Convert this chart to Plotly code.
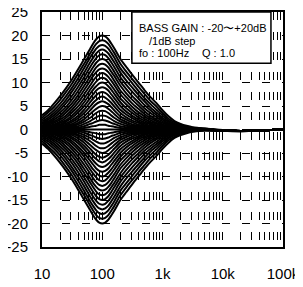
import plotly.graph_objects as go

# frequency points (Hz)
freqs = [10, 12.6, 15.8, 20, 25.1, 31.6, 39.8, 50.1, 63.1, 70.8, 79.4, 89.1, 100,
         112, 126, 141, 158, 200, 251, 316, 398, 501, 631, 794, 1000, 1260, 1580,
         2000, 2510, 3160, 5010, 10000, 20000, 40000, 100000]

# boost curves, gain +1 ... +20 dB (dB values read/estimated from the chart)
boost_gains = list(range(1, 21))
boost_db = [
 [0.0,0.0,0.0,0.0,0.1,0.1,0.2,0.3,0.6,0.7,0.8,1.0,1.0,1.0,0.8,0.7,0.6,0.3,0.2,0.2,0.1,0.1,0.0,0.0,0.0,0.0,0.0,0.0,0.0,0.0,0.0,-0.2,-0.3,-0.2,0.0],
 [0.0,0.0,0.1,0.1,0.2,0.3,0.4,0.7,1.2,1.4,1.7,1.9,2.0,1.9,1.7,1.4,1.2,0.7,0.5,0.3,0.2,0.1,0.1,0.1,0.0,0.0,0.0,0.0,0.0,0.0,0.0,-0.2,-0.3,-0.2,0.0],
 [0.0,0.1,0.1,0.2,0.3,0.5,0.7,1.2,1.8,2.2,2.6,2.9,3.0,2.9,2.6,2.2,1.8,1.2,0.8,0.6,0.4,0.3,0.2,0.1,0.1,0.0,0.0,0.0,0.0,0.0,0.0,-0.2,-0.3,-0.2,0.0],
 [0.1,0.1,0.2,0.3,0.4,0.7,1.1,1.7,2.5,3.0,3.5,3.9,4.0,3.9,3.5,3.0,2.5,1.7,1.2,0.8,0.6,0.4,0.3,0.2,0.1,0.1,0.0,0.0,0.0,0.0,0.0,-0.2,-0.3,-0.2,0.0],
 [0.1,0.1,0.2,0.4,0.6,0.9,1.4,2.2,3.3,3.9,4.4,4.8,5.0,4.9,4.4,3.9,3.3,2.2,1.6,1.1,0.8,0.5,0.4,0.2,0.1,0.1,0.0,0.0,0.0,0.0,0.0,-0.2,-0.3,-0.2,0.0],
 [0.1,0.2,0.3,0.5,0.8,1.2,1.9,2.8,4.1,4.8,5.4,5.8,6.0,5.8,5.4,4.8,4.1,2.8,2.1,1.5,1.0,0.7,0.5,0.3,0.2,0.1,0.1,0.0,0.0,0.0,0.0,-0.2,-0.3,-0.2,0.0],
 [0.2,0.3,0.4,0.7,1.0,1.6,2.4,3.5,4.9,5.7,6.3,6.8,7.0,6.8,6.3,5.7,4.9,3.5,2.6,1.9,1.4,0.9,0.6,0.4,0.3,0.2,0.1,0.1,0.0,0.0,0.0,-0.2,-0.3,-0.2,0.0],
 [0.2,0.4,0.6,0.9,1.3,2.0,2.9,4.2,5.8,6.6,7.3,7.8,8.0,7.8,7.3,6.6,5.8,4.2,3.2,2.4,1.7,1.2,0.8,0.6,0.3,0.2,0.1,0.1,0.0,0.0,0.0,-0.2,-0.3,-0.2,0.0],
 [0.3,0.5,0.7,1.1,1.7,2.5,3.6,5.0,6.7,7.5,8.3,8.8,9.0,8.8,8.3,7.5,6.7,5.0,3.8,2.9,2.1,1.5,1.1,0.7,0.5,0.3,0.2,0.1,0.1,0.0,0.0,-0.2,-0.3,-0.2,0.0],
 [0.4,0.6,0.9,1.4,2.0,3.0,4.2,5.8,7.6,8.5,9.2,9.8,10.0,9.8,9.2,8.5,7.6,5.8,4.5,3.5,2.6,1.9,1.3,0.9,0.6,0.3,0.2,0.1,0.1,0.0,0.0,-0.2,-0.3,-0.2,0.0],
 [0.5,0.7,1.1,1.7,2.5,3.6,4.9,6.6,8.5,9.4,10.2,10.8,11.0,10.8,10.2,9.4,8.5,6.6,5.3,4.1,3.1,2.3,1.6,1.2,0.7,0.4,0.3,0.2,0.1,0.1,0.0,-0.2,-0.3,-0.2,0.0],
 [0.6,0.9,1.4,2.1,3.0,4.2,5.7,7.5,9.4,10.4,11.2,11.8,12.0,11.8,11.2,10.4,9.5,7.5,6.1,4.8,3.7,2.8,2.0,1.4,0.9,0.5,0.3,0.2,0.1,0.1,0.0,-0.2,-0.3,-0.2,0.0],
 [0.8,1.2,1.7,2.5,3.6,4.9,6.5,8.4,10.4,11.4,12.2,12.8,13.0,12.8,12.2,11.4,10.4,8.3,6.9,5.5,4.4,3.3,2.4,1.8,1.1,0.7,0.4,0.3,0.2,0.1,0.0,-0.2,-0.3,-0.2,0.0],
 [0.9,1.4,2.1,3.0,4.2,5.6,7.3,9.3,11.3,12.3,13.2,13.8,14.0,13.8,13.2,12.3,11.4,9.3,7.7,6.3,5.1,3.9,2.9,2.1,1.4,0.9,0.5,0.3,0.2,0.1,0.1,-0.2,-0.3,-0.2,0.0],
 [1.2,1.7,2.5,3.6,4.8,6.4,8.2,10.2,12.3,13.3,14.2,14.8,15.0,14.8,14.2,13.3,12.3,10.2,8.6,7.1,5.8,4.5,3.5,2.6,1.7,1.1,0.7,0.4,0.3,0.2,0.1,-0.2,-0.3,-0.2,0.0],
 [1.4,2.1,3.0,4.2,5.6,7.2,9.1,11.1,13.3,14.3,15.2,15.8,16.0,15.8,15.2,14.3,13.3,11.1,9.5,8.0,6.6,5.2,4.1,3.1,2.1,1.3,0.8,0.5,0.3,0.2,0.1,-0.2,-0.3,-0.2,0.0],
 [1.7,2.5,3.5,4.8,6.3,8.1,10.0,12.1,14.3,15.3,16.2,16.8,17.0,16.8,16.2,15.3,14.3,12.1,10.4,8.9,7.4,6.0,4.7,3.6,2.5,1.6,1.0,0.6,0.4,0.3,0.1,-0.2,-0.3,-0.2,0.0],
 [2.1,3.0,4.1,5.5,7.1,8.9,10.9,13.1,15.3,16.3,17.2,17.8,18.0,17.8,17.2,16.3,15.3,13.0,11.4,9.8,8.2,6.7,5.4,4.2,3.0,1.9,1.2,0.8,0.5,0.3,0.1,-0.2,-0.3,-0.2,0.0],
 [2.5,3.6,4.8,6.3,8.0,9.8,11.9,14.0,16.2,17.3,18.2,18.8,19.0,18.8,18.2,17.3,16.3,14.0,12.3,10.7,9.1,7.6,6.1,4.9,3.5,2.3,1.5,1.0,0.6,0.4,0.2,-0.2,-0.3,-0.2,0.0],
 [3.0,4.1,5.5,7.1,8.8,10.7,12.8,15.0,17.2,18.3,19.2,19.8,20.0,19.8,19.2,18.3,17.3,15.0,13.3,11.6,10.0,8.4,6.9,5.6,4.1,2.8,1.8,1.2,0.8,0.5,0.2,-0.1,-0.3,-0.2,0.0],
]

# flat curve, gain 0 dB
flat_db = [0.0,0.0,0.0,0.0,0.0,0.0,0.0,0.0,0.0,0.0,0.0,0.0,0.0,0.0,0.0,0.0,0.0,0.0,0.0,0.0,0.0,0.0,0.0,0.0,0.0,0.0,0.0,0.0,0.0,0.0,0.0,-0.2,-0.3,-0.2,0.0]

# cut curves, gain -1 ... -20 dB
cut_gains = list(range(-1, -21, -1))
cut_db = [
 [0.0,0.0,0.0,0.0,-0.1,-0.1,-0.2,-0.3,-0.6,-0.7,-0.8,-1.0,-1.0,-1.0,-0.8,-0.7,-0.6,-0.3,-0.2,-0.2,-0.1,-0.1,0.0,0.0,0.0,0.0,0.0,0.0,0.0,0.0,0.0,-0.2,-0.3,-0.2,0.0],
 [0.0,0.0,-0.1,-0.1,-0.2,-0.3,-0.4,-0.7,-1.2,-1.4,-1.7,-1.9,-2.0,-1.9,-1.7,-1.4,-1.2,-0.7,-0.5,-0.3,-0.2,-0.1,-0.1,-0.1,0.0,0.0,0.0,0.0,0.0,0.0,0.0,-0.2,-0.3,-0.2,0.0],
 [0.0,-0.1,-0.1,-0.2,-0.3,-0.5,-0.7,-1.2,-1.8,-2.2,-2.6,-2.9,-3.0,-2.9,-2.6,-2.2,-1.8,-1.2,-0.8,-0.6,-0.4,-0.3,-0.2,-0.1,-0.1,0.0,0.0,0.0,0.0,0.0,0.0,-0.2,-0.3,-0.2,0.0],
 [-0.1,-0.1,-0.2,-0.3,-0.4,-0.7,-1.1,-1.7,-2.5,-3.0,-3.5,-3.9,-4.0,-3.9,-3.5,-3.0,-2.5,-1.7,-1.2,-0.8,-0.6,-0.4,-0.3,-0.2,-0.1,-0.1,0.0,0.0,0.0,0.0,0.0,-0.2,-0.3,-0.2,0.0],
 [-0.1,-0.1,-0.2,-0.4,-0.6,-0.9,-1.4,-2.2,-3.3,-3.9,-4.4,-4.8,-5.0,-4.9,-4.4,-3.9,-3.3,-2.2,-1.6,-1.1,-0.8,-0.5,-0.4,-0.2,-0.1,-0.1,0.0,0.0,0.0,0.0,0.0,-0.2,-0.3,-0.2,0.0],
 [-0.1,-0.2,-0.3,-0.5,-0.8,-1.2,-1.9,-2.8,-4.1,-4.8,-5.4,-5.8,-6.0,-5.8,-5.4,-4.8,-4.1,-2.8,-2.1,-1.5,-1.0,-0.7,-0.5,-0.3,-0.2,-0.1,-0.1,0.0,0.0,0.0,0.0,-0.2,-0.3,-0.2,0.0],
 [-0.2,-0.3,-0.4,-0.7,-1.0,-1.6,-2.4,-3.5,-4.9,-5.7,-6.3,-6.8,-7.0,-6.8,-6.3,-5.7,-4.9,-3.5,-2.6,-1.9,-1.4,-0.9,-0.6,-0.4,-0.3,-0.2,-0.1,-0.1,0.0,0.0,0.0,-0.2,-0.3,-0.2,0.0],
 [-0.2,-0.4,-0.6,-0.9,-1.3,-2.0,-2.9,-4.2,-5.8,-6.6,-7.3,-7.8,-8.0,-7.8,-7.3,-6.6,-5.8,-4.2,-3.2,-2.4,-1.7,-1.2,-0.8,-0.6,-0.3,-0.2,-0.1,-0.1,0.0,0.0,0.0,-0.2,-0.3,-0.2,0.0],
 [-0.3,-0.5,-0.7,-1.1,-1.7,-2.5,-3.6,-5.0,-6.7,-7.5,-8.3,-8.8,-9.0,-8.8,-8.3,-7.5,-6.7,-5.0,-3.8,-2.9,-2.1,-1.5,-1.1,-0.7,-0.5,-0.3,-0.2,-0.1,-0.1,0.0,0.0,-0.2,-0.3,-0.2,0.0],
 [-0.4,-0.6,-0.9,-1.4,-2.0,-3.0,-4.2,-5.8,-7.6,-8.5,-9.2,-9.8,-10.0,-9.8,-9.2,-8.5,-7.6,-5.8,-4.5,-3.5,-2.6,-1.9,-1.3,-0.9,-0.6,-0.3,-0.2,-0.1,-0.1,0.0,0.0,-0.2,-0.3,-0.2,0.0],
 [-0.5,-0.7,-1.1,-1.7,-2.5,-3.6,-4.9,-6.6,-8.5,-9.4,-10.2,-10.8,-11.0,-10.8,-10.2,-9.4,-8.5,-6.6,-5.3,-4.1,-3.1,-2.3,-1.6,-1.2,-0.7,-0.4,-0.3,-0.2,-0.1,-0.1,0.0,-0.2,-0.3,-0.2,0.0],
 [-0.6,-0.9,-1.4,-2.1,-3.0,-4.2,-5.7,-7.5,-9.4,-10.4,-11.2,-11.8,-12.0,-11.8,-11.2,-10.4,-9.5,-7.5,-6.1,-4.8,-3.7,-2.8,-2.0,-1.4,-0.9,-0.5,-0.3,-0.2,-0.1,-0.1,0.0,-0.2,-0.3,-0.2,0.0],
 [-0.8,-1.2,-1.7,-2.5,-3.6,-4.9,-6.5,-8.4,-10.4,-11.4,-12.2,-12.8,-13.0,-12.8,-12.2,-11.4,-10.4,-8.3,-6.9,-5.5,-4.4,-3.3,-2.4,-1.8,-1.1,-0.7,-0.4,-0.3,-0.2,-0.1,0.0,-0.2,-0.3,-0.2,0.0],
 [-0.9,-1.4,-2.1,-3.0,-4.2,-5.6,-7.3,-9.3,-11.3,-12.3,-13.2,-13.8,-14.0,-13.8,-13.2,-12.3,-11.4,-9.3,-7.7,-6.3,-5.1,-3.9,-2.9,-2.1,-1.4,-0.9,-0.5,-0.3,-0.2,-0.1,-0.1,-0.2,-0.3,-0.2,0.0],
 [-1.2,-1.7,-2.5,-3.6,-4.8,-6.4,-8.2,-10.2,-12.3,-13.3,-14.2,-14.8,-15.0,-14.8,-14.2,-13.3,-12.3,-10.2,-8.6,-7.1,-5.8,-4.5,-3.5,-2.6,-1.7,-1.1,-0.7,-0.4,-0.3,-0.2,-0.1,-0.2,-0.3,-0.2,0.0],
 [-1.4,-2.1,-3.0,-4.2,-5.6,-7.2,-9.1,-11.1,-13.3,-14.3,-15.2,-15.8,-16.0,-15.8,-15.2,-14.3,-13.3,-11.1,-9.5,-8.0,-6.6,-5.2,-4.1,-3.1,-2.1,-1.3,-0.8,-0.5,-0.3,-0.2,-0.1,-0.2,-0.3,-0.2,0.0],
 [-1.7,-2.5,-3.5,-4.8,-6.3,-8.1,-10.0,-12.1,-14.3,-15.3,-16.2,-16.8,-17.0,-16.8,-16.2,-15.3,-14.3,-12.1,-10.4,-8.9,-7.4,-6.0,-4.7,-3.6,-2.5,-1.6,-1.0,-0.6,-0.4,-0.3,-0.1,-0.2,-0.3,-0.2,0.0],
 [-2.1,-3.0,-4.1,-5.5,-7.1,-8.9,-10.9,-13.1,-15.3,-16.3,-17.2,-17.8,-18.0,-17.8,-17.2,-16.3,-15.3,-13.0,-11.4,-9.8,-8.2,-6.7,-5.4,-4.2,-3.0,-1.9,-1.2,-0.8,-0.5,-0.3,-0.1,-0.2,-0.3,-0.2,0.0],
 [-2.5,-3.6,-4.8,-6.3,-8.0,-9.8,-11.9,-14.0,-16.2,-17.3,-18.2,-18.8,-19.0,-18.8,-18.2,-17.3,-16.3,-14.0,-12.3,-10.7,-9.1,-7.6,-6.1,-4.9,-3.5,-2.3,-1.5,-1.0,-0.6,-0.4,-0.2,-0.2,-0.3,-0.2,0.0],
 [-3.0,-4.1,-5.5,-7.1,-8.8,-10.7,-12.8,-15.0,-17.2,-18.3,-19.2,-19.8,-20.0,-19.8,-19.2,-18.3,-17.3,-15.0,-13.3,-11.6,-10.0,-8.4,-6.9,-5.6,-4.1,-2.8,-1.8,-1.2,-0.8,-0.5,-0.2,-0.3,-0.4,-0.2,0.0],
]

# axis ticks
y_ticks = [-25, -20, -15, -10, -5, 0, 5, 10, 15, 20, 25]
y_labels = ["-25", "-20", "-15", "-10", "-5", "0", "5", "10", "15", "20", "25"]
x_decades = [10, 100, 1000, 10000, 100000]
x_labels = ["10", "100", "1k", "10k", "100k"]

legend_lines = ["BASS GAIN : -20〜+20dB", "/1dB step", "fo : 100Hz", "Q : 1.0"]

fig = go.Figure()
line_style = dict(color="black", width=2, shape="spline", smoothing=0.6)
for row in cut_db[::-1] + [flat_db] + boost_db:
    fig.add_trace(go.Scatter(x=freqs, y=row, mode="lines", line=line_style,
                             showlegend=False, hoverinfo="skip"))

gridf = [m * d for d in x_decades[:-1] for m in range(1, 10)] + [x_decades[-1]]
gridt = [x_labels[x_decades.index(v)] if v in x_decades else "" for v in gridf]

# page body has an 8px margin, so the figure is 8px smaller than the window
font = dict(family="Arial, Liberation Sans, sans-serif", size=15, color="black")
fig.update_layout(width=295, height=279, margin=dict(l=34, r=20, t=4, b=40),
                  paper_bgcolor="white", plot_bgcolor="white", font=font)
fig.update_xaxes(type="log", range=[1, 5], tickvals=gridf, ticktext=gridt, automargin=False,
                 showgrid=True, gridcolor="black", gridwidth=1, griddash="8px,12px",
                 showline=True, linecolor="black", linewidth=2, mirror=True,
                 ticks="", zeroline=False, ticklabelstandoff=12, tickfont=font,
                 ticklabeloverflow="allow")
fig.update_yaxes(range=[-25, 25], tickvals=y_ticks, ticktext=y_labels, automargin=False,
                 showgrid=True, gridcolor="black", gridwidth=1, griddash="8px,12px",
                 showline=True, linecolor="black", linewidth=2, mirror=True,
                 ticks="", zeroline=False, ticklabelstandoff=9, tickfont=font,
                 ticklabeloverflow="allow")

fig.add_shape(type="rect", xref="paper", yref="paper", x0=0.373, x1=0.950, y0=0.782, y1=1.0,
              fillcolor="white", line=dict(color="black", width=1.5), layer="above")
tf = dict(family="Arial, Liberation Sans, sans-serif", size=11, color="black")
for t, x, y in zip(legend_lines, [0.394, 0.436, 0.394, 0.656], [0.932, 0.878, 0.824, 0.824]):
    fig.add_annotation(text=t, x=x, y=y, xref="paper", yref="paper", xanchor="left",
                       yanchor="middle", showarrow=False, font=tf)

fig.write_html("out.html")
